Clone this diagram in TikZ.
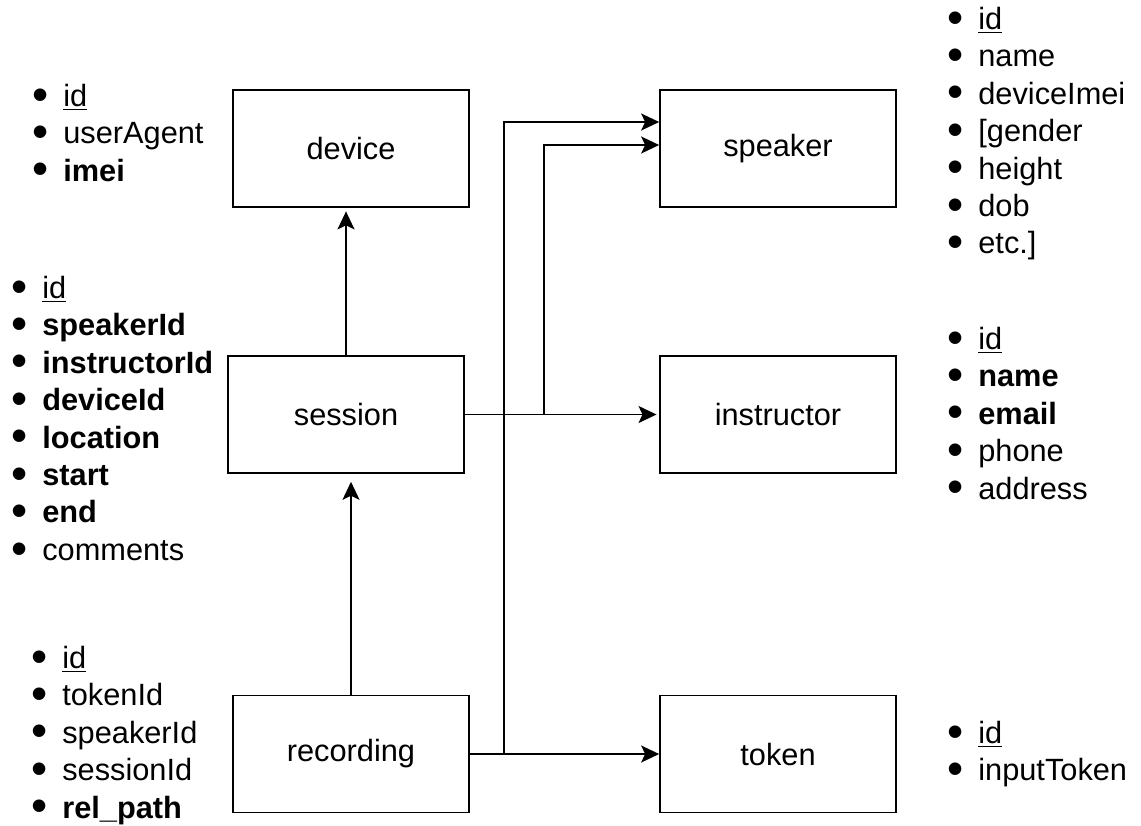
\documentclass[tikz,border=0pt]{standalone}
\usepackage{fontspec}
\setmainfont{Liberation Sans}
\usetikzlibrary{arrows.meta}

% one bulleted attribute line
\newcommand{\attr}[1]{\strut\makebox[0.62cm][l]{\raisebox{-0.12em}{\scalebox{1.5}{\textbullet}}}#1}

\tikzset{
  entity/.style={draw, line width=1pt, minimum width=4.72cm, minimum height=2.34cm,
    inner sep=0pt, font=\fontsize{17.5}{21.3}\selectfont},
  attrs/.style={anchor=north west, align=left, inner sep=0pt,
    font=\fontsize{17.5}{21.3}\selectfont},
  arr/.style={line width=1pt, -{Stealth[length=0.36cm,width=0.34cm,inset=0.08cm]}},
}

\begin{document}
\begin{tikzpicture}[x=0.02cm,y=-0.02cm]
\useasboundingbox (0,0) rectangle (1141,825);

% tables
\node[entity] (device) at (351,148.5) {device};
\node[entity] (session) at (346,414.5) {session};
\node[entity] (recording) at (351,754) {recording};
\node[entity] (speaker) at (778,148.5) {speaker};
\node[entity] (instructor) at (778,414.5) {instructor};
\node[entity] (token) at (778,754) {token};

% columns of each table
\node[attrs] (device-attrs) at (32,79.8)
  {\attr{\underline{id}}\\ \attr{userAgent}\\ \attr{\textbf{imei}}};
\node[attrs] (session-attrs) at (11,271.8)
  {\attr{\underline{id}}\\ \attr{\textbf{speakerId}}\\ \attr{\textbf{instructorId}}\\
   \attr{\textbf{deviceId}}\\ \attr{\textbf{location}}\\ \attr{\textbf{start}}\\
   \attr{\textbf{end}}\\ \attr{comments}};
\node[attrs] (recording-attrs) at (31,641.8)
  {\attr{\underline{id}}\\ \attr{tokenId}\\ \attr{speakerId}\\ \attr{sessionId}\\
   \attr{\textbf{rel\_path}}};
\node[attrs] (speaker-attrs) at (947,2.8)
  {\attr{\underline{id}}\\ \attr{name}\\ \attr{deviceImei}\\ \attr{[gender}\\
   \attr{height}\\ \attr{dob}\\ \attr{etc.]}};
\node[attrs] (instructor-attrs) at (947,322.8)
  {\attr{\underline{id}}\\ \attr{\textbf{name}}\\ \attr{\textbf{email}}\\
   \attr{phone}\\ \attr{address}};
\node[attrs] (token-attrs) at (947,716.8)
  {\attr{\underline{id}}\\ \attr{inputToken}};

% references
\draw[arr, shorten >=2pt] (session.north) -- (device.south -| session.north);
\draw[arr, shorten >=4.5pt] (recording.north) -- (session.south -| recording.north);
\draw[arr, shorten >=1.5pt] (session.east) -- (instructor.west);
\draw[arr] (recording.east) -- (token.west);

\coordinate (sessfork) at (544,414.5);
\coordinate (recfork) at (504,754);
\draw[arr] (sessfork) |- (speaker.west |- 0,145);
\draw[arr] (recfork) |- (speaker.west |- 0,122);

\end{tikzpicture}
\end{document}
